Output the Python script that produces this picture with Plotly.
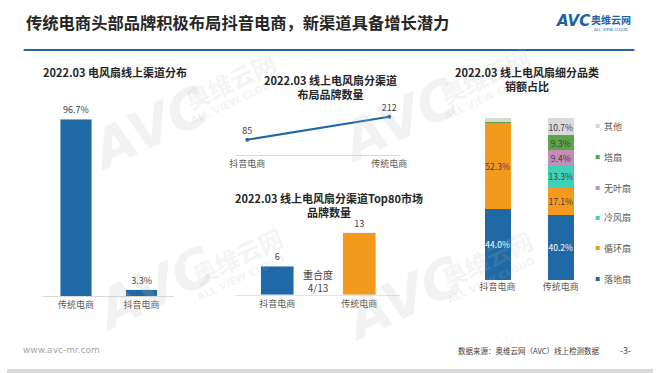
import plotly.graph_objects as go

# ---------------- data ----------------
left_channels = ["传统电商", "抖音电商"]
left_share = [96.7, 3.3]

mid_channels = ["抖音电商", "传统电商"]
brand_counts = [85, 212]
top80_counts = [6, 13]
overlap_text = "重合度<br>4/13"

right_channels = ["抖音电商", "传统电商"]
categories = ["落地扇", "循环扇", "冷风扇", "无叶扇", "塔扇", "其他"]
douyin_mix = [44.0, 52.3, 0.3, 0.2, 0.8, 2.4]
trad_mix = [40.2, 17.1, 13.3, 9.4, 9.3, 10.7]

main_title = "传统电商头部品牌积极布局抖音电商，新渠道具备增长潜力"
title_left = "2022.03 电风扇线上渠道分布"
title_mid_top = "2022.03 线上电风扇分渠道<br>布局品牌数量"
title_mid_bottom = "2022.03 线上电风扇分渠道Top80市场<br>品牌数量"
title_right = "2022.03 线上电风扇细分品类<br>销额占比"
footer_left = "www.avc-mr.com"
footer_right = "数据来源：奥维云网（AVC）线上检测数据"
page_no = "-3-"

# ---------------- style ----------------
W, H = 660, 373
BLUE = "#1F69A6"
ORANGE = "#F39A1E"
CAT_COLORS = ["#1F69A6", "#F39A1E", "#3DD2B6", "#C48DB6", "#5EA546", "#D9D9D9"]
FONT = "Noto Sans CJK SC"
TXT = "#404040"


def px(x):
    return x / W


def py(y):
    return 1 - y / H


fig = go.Figure()

# left chart
fig.add_trace(go.Bar(
    x=left_channels, y=left_share, xaxis="x", yaxis="y",
    marker=dict(color=BLUE), width=0.48,
    text=[f"{v}%" for v in left_share], textposition="outside",
    textfont=dict(size=9, color=TXT), cliponaxis=False, showlegend=False,
))

# middle top line
fig.add_trace(go.Scatter(
    x=mid_channels, y=brand_counts, xaxis="x2", yaxis="y2",
    mode="lines+markers+text", line=dict(color=BLUE, width=2),
    marker=dict(color=BLUE, size=4),
    text=[str(v) for v in brand_counts], textposition="top center",
    textfont=dict(size=9, color=TXT), cliponaxis=False, showlegend=False,
))

# middle bottom bars
fig.add_trace(go.Bar(
    x=mid_channels, y=top80_counts, xaxis="x3", yaxis="y3",
    marker=dict(color=[BLUE, ORANGE]), width=0.4,
    text=[str(v) for v in top80_counts], textposition="outside",
    textfont=dict(size=9, color=TXT), cliponaxis=False, showlegend=False,
))

# right stacked bars
for i, cat in enumerate(categories):
    vals = [douyin_mix[i], trad_mix[i]]
    labels = [f"{v:.1f}%" if v >= 5 else "" for v in vals]
    fig.add_trace(go.Bar(
        x=right_channels, y=vals, xaxis="x4", yaxis="y4", name=cat,
        marker=dict(color=CAT_COLORS[i], line=dict(width=0)), width=0.41,
        text=labels, textposition="inside", insidetextanchor="middle",
        textangle=0, constraintext="none",
        textfont=dict(size=8.5, color="white" if i == 0 else TXT),
        showlegend=False,
    ))

axis_common = dict(showgrid=False, zeroline=False, ticks="",
                   tickfont=dict(size=9, color="#595959", family=FONT))
yaxis_common = dict(showgrid=False, zeroline=False, showticklabels=False, ticks="")

fig.update_layout(
    width=W, height=H,
    margin=dict(l=0, r=0, t=0, b=0),
    paper_bgcolor="white", plot_bgcolor="rgba(0,0,0,0)",
    font=dict(family=FONT, color=TXT),
    barmode="stack",
    xaxis=dict(domain=[px(37), px(171)], anchor="y", showline=True,
               linecolor="#D9D9D9", **axis_common),
    yaxis=dict(domain=[py(296), py(113)], range=[0, 100], anchor="x", **yaxis_common),
    xaxis2=dict(domain=[px(234), px(402)], anchor="y2", showline=True,
                linecolor="#D9D9D9", **axis_common),
    yaxis2=dict(domain=[py(155), py(110)], range=[0, 250], anchor="x2", **yaxis_common),
    xaxis3=dict(domain=[px(234), px(402)], anchor="y3", showline=True,
                linecolor="#E3E3E3", **axis_common),
    yaxis3=dict(domain=[py(295), py(223.4)], range=[0, 15], anchor="x3", **yaxis_common),
    xaxis4=dict(domain=[px(469), px(598)], anchor="y4", showline=False, **axis_common),
    yaxis4=dict(domain=[py(280), py(118)], range=[0, 100], anchor="x4", **yaxis_common),
)

ann = []
shapes = []


def note(x, y, text, size, color, family=FONT, xanchor="center", angle=0):
    ann.append(dict(x=px(x), y=py(y), xref="paper", yref="paper", xanchor=xanchor,
                    yanchor="middle", text=text, showarrow=False, textangle=angle,
                    font=dict(size=size, color=color, family=family)))


# watermarks (faint)
wm_color = "rgba(185,185,185,0.18)"
for (ax, ay), (bx, by) in [((145, 128), (228, 80)), ((400, 120), (488, 75)),
                           ((150, 288), (235, 255)), ((405, 298), (490, 258))]:
    note(ax, ay, "<b><i>AVC</i></b>", 54, wm_color, "DejaVu Sans", angle=-25)
    note(bx, by, "<b>奥维云网</b>", 24, wm_color, angle=-25)
    note(bx + 4, by + 22, "<b>ALL VIEW CLOUD</b>", 10, wm_color, "DejaVu Sans", angle=-25)

# main title
note(17, 22, f"<b>{main_title}</b>", 16.3, "#262626", xanchor="left")
shapes.append(dict(type="line", xref="paper", yref="paper", x0=px(17), x1=px(641),
                   y0=py(50), y1=py(50), line=dict(color="#2266A8", width=2)))

# logo
note(578, 21, "<b><i>AVC</i></b>", 15, "#1B5FAA", "DejaVu Sans")
note(617, 19, "<b>奥维云网</b>", 10, "#1B5FAA")
note(617, 29, "ALL VIEW CLOUD", 4, "#1B5FAA", "DejaVu Sans")

# sub titles
for txt, x, y in [(title_left, 110, 72), (title_mid_top, 330, 87),
                  (title_mid_bottom, 329, 205), (title_right, 531, 79)]:
    note(x, y, f"<b>{txt}</b>", 11, "#262626")

# overlap annotation
note(318, 281, overlap_text, 10, TXT)

# legend (manual, reversed order)
leg_y = [279, 248, 218, 188, 157, 126]
for i, cat in enumerate(categories):
    yy = leg_y[i]
    shapes.append(dict(type="rect", xref="paper", yref="paper",
                       x0=px(601.5), x1=px(605.5), y0=py(yy + 2), y1=py(yy - 2),
                       fillcolor=CAT_COLORS[i], line=dict(width=0)))
    note(607.5, yy, cat, 9, "#595959", xanchor="left")

# footer
note(14, 350, footer_left, 9, "#A6A6A6", "DejaVu Sans", xanchor="left")
note(607, 350, footer_right, 7.5, TXT, xanchor="right")
note(632, 350, page_no, 9, TXT)
shapes.append(dict(type="rect", xref="paper", yref="paper", x0=0, x1=1, y0=0, y1=py(369),
                   fillcolor="#D9D9D9", line=dict(width=0)))

fig.update_layout(annotations=ann, shapes=shapes)
fig.write_html("out.html", config={"displayModeBar": False, "staticPlot": True},
               post_script="document.body.style.margin='0';")
